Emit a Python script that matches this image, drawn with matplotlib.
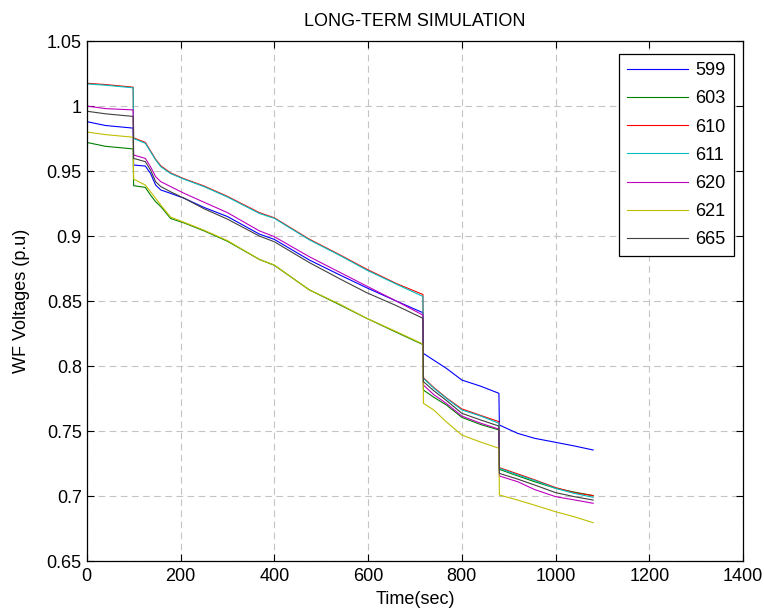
import matplotlib
matplotlib.use('Agg')
import matplotlib.pyplot as plt
from matplotlib.ticker import FuncFormatter

plt.rcParams['font.family'] = ['Liberation Sans', 'DejaVu Sans']

# time axis (sec), repeated times are the step drops
t = [0, 40, 99, 100, 125, 136, 147, 158, 179, 208, 250, 300, 368, 400, 475, 540,
     597, 660, 717, 718, 740, 767, 800, 840, 879, 880, 919, 955, 1000, 1040, 1080]

v599 = [0.988, 0.985, 0.983, 0.9546, 0.9538, 0.9482, 0.9392, 0.9354, 0.9328, 0.929, 0.922, 0.915,
        0.9015, 0.8974, 0.8815, 0.870, 0.8602, 0.850, 0.841, 0.8097, 0.8045, 0.7982, 0.7892, 0.7845,
        0.779, 0.7546, 0.7482, 0.7444, 0.7413, 0.7385, 0.7354]
v603 = [0.972, 0.969, 0.967, 0.9387, 0.9374, 0.9315, 0.9264, 0.9226, 0.9135, 0.910, 0.904, 0.896,
        0.882, 0.8775, 0.8585, 0.847, 0.8367, 0.826, 0.8165, 0.7815, 0.776, 0.770, 0.7605, 0.755,
        0.7508, 0.7205, 0.7155, 0.711, 0.706, 0.703, 0.7003]
v610 = [1.0175, 1.0165, 1.0145, 0.9755, 0.972, 0.9655, 0.959, 0.954, 0.9485, 0.944, 0.9385, 0.9305,
        0.918, 0.914, 0.8975, 0.8855, 0.8745, 0.8635, 0.855, 0.791, 0.7835, 0.7755, 0.767, 0.762,
        0.7572, 0.7218, 0.717, 0.7125, 0.7065, 0.7025, 0.7003]
v611 = [1.017, 1.016, 1.014, 0.975, 0.9713, 0.9649, 0.9585, 0.9533, 0.948, 0.9436, 0.938, 0.930,
        0.9174, 0.9136, 0.897, 0.885, 0.8738, 0.863, 0.8535, 0.7905, 0.783, 0.7751, 0.7662, 0.7615,
        0.756, 0.7213, 0.7162, 0.712, 0.7059, 0.702, 0.699]
v620 = [1.000, 0.998, 0.997, 0.9623, 0.9597, 0.9533, 0.9456, 0.9418, 0.938, 0.9328, 0.926, 0.918,
        0.904, 0.8995, 0.884, 0.872, 0.8615, 0.850, 0.8392, 0.7854, 0.778, 0.7712, 0.7615, 0.756,
        0.7515, 0.7154, 0.711, 0.705, 0.6995, 0.697, 0.6944]
v621 = [0.980, 0.978, 0.976, 0.9438, 0.9392, 0.934, 0.929, 0.9238, 0.9145, 0.9105, 0.9045, 0.8965,
        0.882, 0.8777, 0.8585, 0.8475, 0.8367, 0.8265, 0.8169, 0.7713, 0.7662, 0.757, 0.7469, 0.7415,
        0.7367, 0.7008, 0.6969, 0.693, 0.6879, 0.684, 0.6795]
v665 = [0.996, 0.994, 0.992, 0.9597, 0.9572, 0.9508, 0.9418, 0.938, 0.934, 0.929, 0.921, 0.913,
        0.900, 0.8956, 0.8795, 0.867, 0.8564, 0.8465, 0.8367, 0.788, 0.781, 0.7735, 0.7636, 0.7585,
        0.7538, 0.7174, 0.713, 0.7085, 0.7026, 0.6995, 0.6969]

labels = ['599', '603', '610', '611', '620', '621', '665']
series = [v599, v603, v610, v611, v620, v621, v665]
colors = ['#0000ff', '#008000', '#ff0000', '#00bfbf', '#bf00bf', '#bfbf00', '#404040']

fs = 13

fig = plt.figure(figsize=(7.64, 6.12), dpi=100)
ax = fig.add_axes([0.1135, 0.0833, 0.8593, 0.8497])

for y, c, lab in zip(series, colors, labels):
    ax.plot(t, y, color=c, linewidth=0.8, label=lab)

ax.set_xlim(0, 1400)
ax.set_ylim(0.65, 1.05)
ax.set_xticks(range(0, 1401, 200))
ax.set_yticks([0.65, 0.7, 0.75, 0.8, 0.85, 0.9, 0.95, 1.0, 1.05])
ax.yaxis.set_major_formatter(FuncFormatter(lambda v, p: '%g' % round(v, 2)))

ax.grid(True, color='#c4c4c4', linestyle=(0, (6, 4)), linewidth=0.8)
ax.tick_params(direction='in', top=True, right=True, length=5, labelsize=fs)
ax.tick_params(axis='x', pad=5)
for s in ax.spines.values():
    s.set_linewidth(0.9)

ax.set_title('LONG-TERM SIMULATION', fontsize=fs, pad=11)
ax.set_xlabel('Time(sec)', fontsize=fs, labelpad=4)
ax.set_ylabel('WF Voltages (p.u)', fontsize=fs, labelpad=12)

leg = ax.legend(loc='upper right', bbox_to_anchor=(734 / 764, 1 - 54 / 612),
                bbox_transform=fig.transFigure, fancybox=False, edgecolor='black',
                framealpha=1, fontsize=fs, handlelength=3.35, labelspacing=0.62,
                borderpad=0.45, handletextpad=0.45, borderaxespad=0)
leg.get_frame().set_linewidth(0.9)

plt.savefig('out.png', dpi=100)
